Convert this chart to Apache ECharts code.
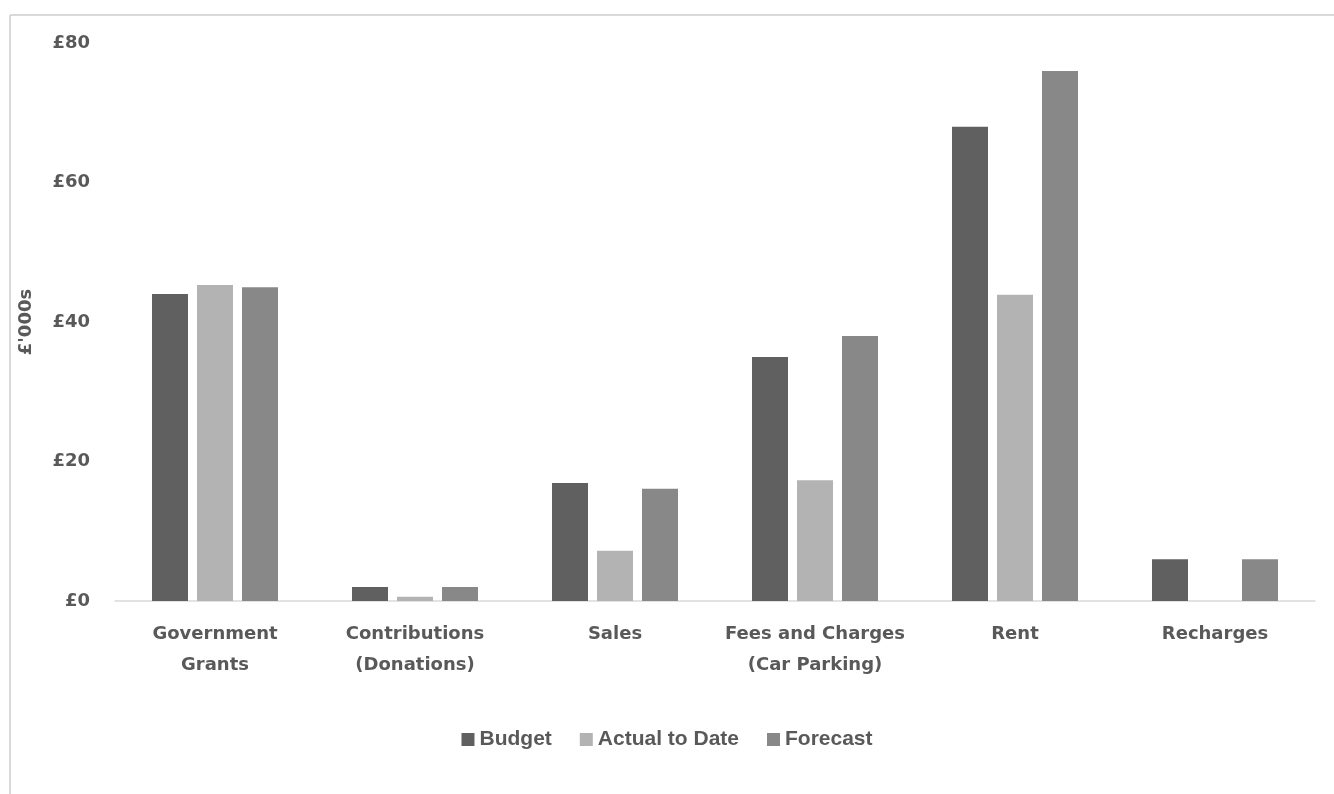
<!DOCTYPE html>
<html>
<head>
<meta charset="utf-8">
<script src="https://cdn.jsdelivr.net/npm/echarts@6/dist/echarts.min.js"></script>
<style>
  html, body { margin: 0; padding: 0; background: #fff; }
  #chart { width: 1334px; height: 794px; }
</style>
</head>
<body>
<div id="chart"></div>
<script>
const categories = ['Government\nGrants', 'Contributions\n(Donations)', 'Sales', 'Fees and Charges\n(Car Parking)', 'Rent', 'Recharges'];
const budget = [44, 2, 16.9, 35, 68, 6];
const actualToDate = [45.3, 0.6, 7.2, 17.3, 43.9, 0];
const forecast = [45, 2, 16.1, 38, 76, 6];

const textColor = '#595959';
const font = '"DejaVu Sans", sans-serif';

const chart = echarts.init(document.getElementById('chart'));

const option = {
  animation: false,
  color: ['#606060', '#b3b3b3', '#888888'],
  graphic: [
    { type: 'line', shape: { x1: 10, y1: 15, x2: 1334, y2: 15 }, style: { stroke: '#d9d9d9', lineWidth: 2 } },
    { type: 'line', shape: { x1: 10, y1: 15, x2: 10, y2: 794 }, style: { stroke: '#d9d9d9', lineWidth: 2 } }
  ],
  grid: { left: 115, right: 19, top: 43, bottom: 193 },
  legend: {
    bottom: 39,
    left: 'center',
    itemWidth: 13,
    itemHeight: 13,
    itemGap: 28,
    icon: 'rect',
    textStyle: { color: textColor, fontSize: 21, fontWeight: 'bold', fontFamily: '"Liberation Sans", Arial, sans-serif' }
  },
  xAxis: {
    type: 'category',
    data: categories,
    axisLine: { lineStyle: { color: '#d9d9d9', width: 1.5 } },
    axisTick: { show: false },
    axisLabel: { interval: 0, hideOverlap: false, color: textColor, fontSize: 18, fontWeight: 'bold', fontFamily: font, lineHeight: 31, margin: 18 }
  },
  yAxis: {
    type: 'value',
    min: 0,
    max: 80,
    interval: 20,
    name: "£'000s",
    nameLocation: 'middle',
    nameGap: 80,
    nameTextStyle: { color: textColor, fontSize: 18, fontWeight: 'bold', fontFamily: font },
    splitLine: { show: false },
    axisLine: { show: false },
    axisTick: { show: false },
    axisLabel: { color: textColor, fontSize: 18, fontWeight: 'bold', fontFamily: font, margin: 25, formatter: '£{value}' }
  },
  series: [
    { name: 'Budget', type: 'bar', data: budget, barWidth: 36, barGap: '25%' },
    { name: 'Actual to Date', type: 'bar', data: actualToDate, barWidth: 36, barGap: '25%' },
    { name: 'Forecast', type: 'bar', data: forecast, barWidth: 36, barGap: '25%' }
  ]
};

chart.setOption(option);
</script>
</body>
</html>
